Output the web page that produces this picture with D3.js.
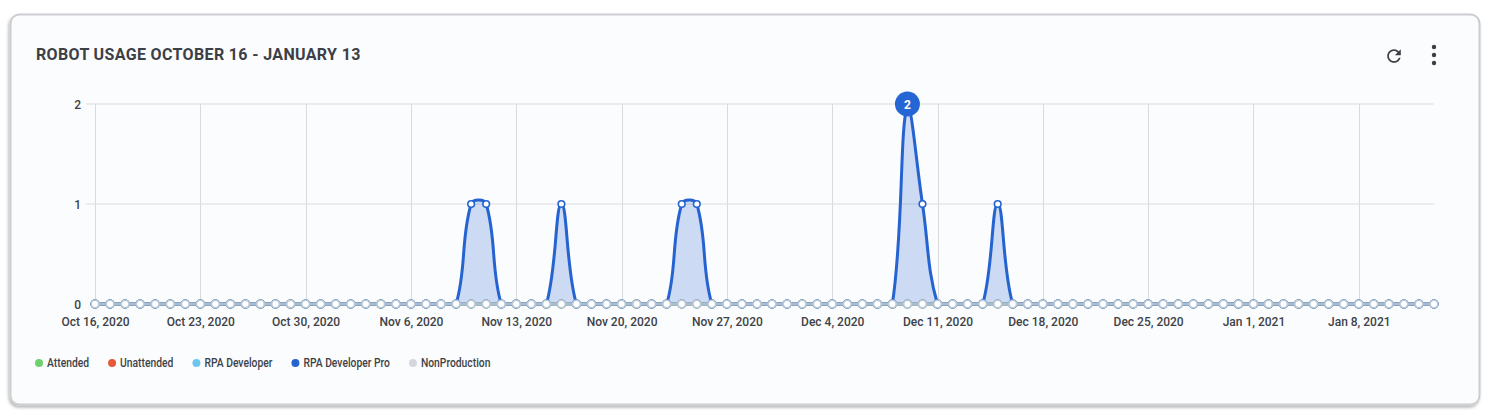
<!DOCTYPE html>
<html><head><meta charset="utf-8">
<script src="https://cdn.jsdelivr.net/npm/d3@7"></script>
<style>
html,body{margin:0;padding:0;background:#fff;}
svg{display:block;font-family:Roboto, "Noto Sans", sans-serif;}
</style></head>
<body><svg id="c" width="1495" height="419"></svg>
<script>
// ---- data ----
const title = "ROBOT USAGE OCTOBER 16 - JANUARY 13";
const startDay = "2020-10-16";
const endDay = "2021-01-13";
const xTickLabels = ["Oct 16, 2020","Oct 23, 2020","Oct 30, 2020","Nov 6, 2020","Nov 13, 2020","Nov 20, 2020","Nov 27, 2020","Dec 4, 2020","Dec 11, 2020","Dec 18, 2020","Dec 25, 2020","Jan 1, 2021","Jan 8, 2021"];
const yTicks = [0,1,2];
const seriesNames = ["Attended","Unattended","RPA Developer","RPA Developer Pro","NonProduction"];
const seriesColors = ["#6fd06e","#e8583a","#6ec6f0","#2563d1","#d4d7dc"];
const attended     = [0,0,0,0,0,0,0,0,0,0, 0,0,0,0,0,0,0,0,0,0, 0,0,0,0,0,0,0,0,0,0, 0,0,0,0,0,0,0,0,0,0, 0,0,0,0,0,0,0,0,0,0, 0,0,0,0,0,0,0,0,0,0, 0,0,0,0,0,0,0,0,0,0, 0,0,0,0,0,0,0,0,0,0, 0,0,0,0,0,0,0,0,0,0];
const unattended   = [0,0,0,0,0,0,0,0,0,0, 0,0,0,0,0,0,0,0,0,0, 0,0,0,0,0,0,0,0,0,0, 0,0,0,0,0,0,0,0,0,0, 0,0,0,0,0,0,0,0,0,0, 0,0,0,0,0,0,0,0,0,0, 0,0,0,0,0,0,0,0,0,0, 0,0,0,0,0,0,0,0,0,0, 0,0,0,0,0,0,0,0,0,0];
const rpaDeveloper = [0,0,0,0,0,0,0,0,0,0, 0,0,0,0,0,0,0,0,0,0, 0,0,0,0,0,0,0,0,0,0, 0,0,0,0,0,0,0,0,0,0, 0,0,0,0,0,0,0,0,0,0, 0,0,0,0,0,0,0,0,0,0, 0,0,0,0,0,0,0,0,0,0, 0,0,0,0,0,0,0,0,0,0, 0,0,0,0,0,0,0,0,0,0];
const rpaDeveloperPro = [0,0,0,0,0,0,0,0,0,0, 0,0,0,0,0,0,0,0,0,0, 0,0,0,0,0,1,1,0,0,0, 0,1,0,0,0,0,0,0,0,1, 1,0,0,0,0,0,0,0,0,0, 0,0,0,0,2,1,0,0,0,0, 1,0,0,0,0,0,0,0,0,0, 0,0,0,0,0,0,0,0,0,0, 0,0,0,0,0,0,0,0,0,0];
const nonProduction = [0,0,0,0,0,0,0,0,0,0, 0,0,0,0,0,0,0,0,0,0, 0,0,0,0,0,0,0,0,0,0, 0,0,0,0,0,0,0,0,0,0, 0,0,0,0,0,0,0,0,0,0, 0,0,0,0,0,0,0,0,0,0, 0,0,0,0,0,0,0,0,0,0, 0,0,0,0,0,0,0,0,0,0, 0,0,0,0,0,0,0,0,0,0];
const seriesValues = [attended, unattended, rpaDeveloper, rpaDeveloperPro, nonProduction];

// ---- setup ----
const parse = d3.timeParse("%Y-%m-%d");
const dates = d3.timeDay.range(parse(startDay), d3.timeDay.offset(parse(endDay), 1));
const tickDates = xTickLabels.map(d3.timeParse("%b %-d, %Y"));
const svg = d3.select("#c");
const L = 95, R = 1434, T = 104, B = 304;
const x = d3.scaleTime().domain([dates[0], dates[dates.length-1]]).range([L, R]);
const y = d3.scaleLinear().domain([0, 2]).range([B, T]);

// card
const defs = svg.append("defs");
const f = defs.append("filter").attr("id","sh").attr("x","-5%").attr("y","-10%").attr("width","110%").attr("height","125%");
f.append("feDropShadow").attr("dx",-1).attr("dy",2).attr("stdDeviation",1.5).attr("flood-color","#000").attr("flood-opacity",0.3);
svg.append("rect").attr("x",10.5).attr("y",14.5).attr("width",1469).attr("height",390).attr("rx",9)
  .attr("fill","#fbfcfd").attr("stroke","#cbced1").attr("stroke-width",2).attr("filter","url(#sh)");

svg.append("text").attr("x",36).attr("y",60).text(title)
  .attr("font-size",16).attr("font-weight",700).attr("fill","#3c4046").attr("letter-spacing",0.35);

// icons
svg.append("path")
  .attr("d","M17.65 6.35C16.2 4.9 14.21 4 12 4c-4.42 0-7.99 3.58-7.99 8s3.57 8 7.99 8c3.73 0 6.84-2.55 7.73-6h-2.08c-.82 2.330-3.04 4-5.65 4-3.31 0-6-2.69-6-6s2.69-6 6-6c1.66 0 3.14.69 4.22 1.78L13 11h7V4l-2.35 2.35z")
  .attr("transform","translate(1383.8,45.8) scale(0.85)").attr("fill","#3c4046");
const kb = svg.append("g").attr("fill","#3c4046");
[47,55,63].forEach(v => kb.append("circle").attr("cx",1434).attr("cy",v).attr("r",2.2));

// grid
const grid = svg.append("g");
grid.selectAll("line.h").data(yTicks.filter(d=>d>0)).join("line")
  .attr("x1",L-9).attr("x2",R).attr("y1",d=>y(d)).attr("y2",d=>y(d)).attr("stroke","#d9dcdf").attr("stroke-width",1);
grid.selectAll("line.v").data(tickDates).join("line")
  .attr("x1",d=>Math.round(x(d))+0.5).attr("x2",d=>Math.round(x(d))+0.5).attr("y1",T).attr("y2",B).attr("stroke","#d9dcdf").attr("stroke-width",1);

// y labels
svg.append("g").selectAll("text").data(yTicks).join("text")
  .attr("x",81).attr("y",d=>y(d)+4.5).attr("text-anchor","end").text(d=>d)
  .attr("font-size",12).attr("font-weight",500).attr("fill","#3e4247");

// x axis labels
const xAxis = d3.axisBottom(x).tickValues(tickDates).tickFormat((d,i)=>xTickLabels[i]).tickSize(0).tickPadding(13);
const xg = svg.append("g").attr("transform",`translate(0,${B})`).call(xAxis);
xg.select(".domain").remove();
xg.selectAll("text").attr("font-size",12).attr("font-weight",500).attr("fill","#3e4247").attr("font-family","Roboto, sans-serif");

// Chart.js-like spline (tension 0.4, capped to chart area)
function splinePath(vals, withArea){
  const pts = vals.map((v,i)=>({x:x(dates[i]), y:y(v)}));
  const t = 0.4, n = pts.length;
  const cp = pts.map((p,i)=>{
    const prev = i>0 ? pts[i-1] : p, next = i<n-1 ? pts[i+1] : p;
    const d01 = Math.hypot(p.x-prev.x, p.y-prev.y), d12 = Math.hypot(next.x-p.x, next.y-p.y);
    let s01 = d01/(d01+d12), s12 = d12/(d01+d12);
    if (isNaN(s01)) s01 = 0; if (isNaN(s12)) s12 = 0;
    const fa = t*s01, fb = t*s12;
    const cap = (q)=>({x:Math.max(L,Math.min(R,q.x)), y:Math.max(T,Math.min(B,q.y))});
    return {
      prev: cap({x:p.x - fa*(next.x-prev.x), y:p.y - fa*(next.y-prev.y)}),
      next: cap({x:p.x + fb*(next.x-prev.x), y:p.y + fb*(next.y-prev.y)})
    };
  });
  const path = d3.path();
  path.moveTo(pts[0].x, pts[0].y);
  for (let i=1;i<n;i++){
    path.bezierCurveTo(cp[i-1].next.x, cp[i-1].next.y, cp[i].prev.x, cp[i].prev.y, pts[i].x, pts[i].y);
  }
  if (withArea){
    path.lineTo(pts[n-1].x, y(0));
    path.lineTo(pts[0].x, y(0));
    path.closePath();
  }
  return path.toString();
}

const lineColors = ["#6fd06e","#e8583a","#6ec6f0","#2563d1","#aabdcc"];
const pointStroke = ["#6fd06e","#e8583a","#6ec6f0","#2563d1","#bccbd6"];
const plot = svg.append("g");
seriesValues.forEach((vals, si)=>{
  const g = plot.append("g");
  if (d3.max(vals) > 0){
    g.append("path").attr("d", splinePath(vals, true)).attr("fill", lineColors[si]).attr("fill-opacity",0.22).attr("stroke","none");
  }
  g.append("path").attr("d", splinePath(vals, false)).attr("fill","none").attr("stroke", lineColors[si]).attr("stroke-width",3);
  g.selectAll("circle").data(vals).join("circle")
    .attr("cx",(d,i)=>x(dates[i])).attr("cy",d=>y(d)).attr("r", d=> d>0 ? 3.3 : 3.8)
    .attr("fill","#fff").attr("stroke", pointStroke[si]).attr("stroke-width",1.6);
});

// max badge
const proMax = d3.max(rpaDeveloperPro);
const proMaxIdx = rpaDeveloperPro.indexOf(proMax);
const badge = svg.append("g").attr("transform",`translate(${x(dates[proMaxIdx])},${y(proMax)})`);
badge.append("circle").attr("r",12.5).attr("fill","#2666d4");
badge.append("text").attr("text-anchor","middle").attr("y",4.5).text(proMax)
  .attr("fill","#fff").attr("font-size",12).attr("font-weight",700);

// legend
const lg = svg.append("g").attr("transform","translate(0,363)");
let lx = 39;
seriesNames.forEach((name,i)=>{
  lg.append("circle").attr("cx",lx).attr("cy",0).attr("r",4).attr("fill",seriesColors[i]);
  const tx = lg.append("text").attr("x",lx+8).attr("y",4).text(name)
    .attr("font-size",12).attr("font-weight",500).attr("fill","#3e4247");
  const w = tx.node().getComputedTextLength() * 0.86;
  tx.attr("textLength", w).attr("lengthAdjust","spacingAndGlyphs");
  lx = lx + 8 + w + 23;
});
</script></body></html>
